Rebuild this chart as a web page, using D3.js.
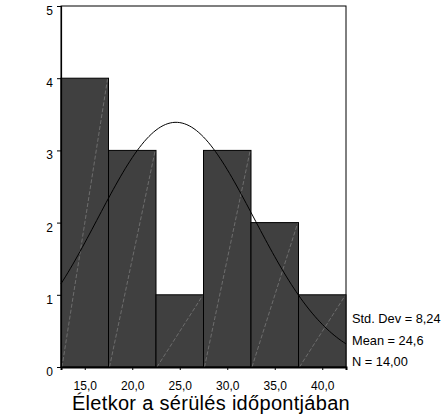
<!DOCTYPE html>
<html>
<head>
<meta charset="utf-8">
<script src="https://cdn.jsdelivr.net/npm/d3@7"></script>
<style>
  body { margin: 0; background: #fff; }
  text { font-family: Arial, "Liberation Sans", sans-serif; fill: #000; }
</style>
</head>
<body>
<div id="chart"></div>
<script>
// histogram data (bin midpoints and counts)
const binMids = [15, 20, 25, 30, 35, 40];
const counts = [4, 3, 1, 3, 2, 1];
const binWidth = 5;
const xTicks = [15, 20, 25, 30, 35, 40];
const yTicks = [0, 1, 2, 3, 4, 5];
// summary stats shown at the right
const stdDev = 8.24, mean = 24.6, n = 14;
const statLabels = ["Std. Dev = 8,24", "Mean = 24,6", "N = 14,00"];
const xTitle = "Életkor a sérülés időpontjában";

const W = 443, H = 415;
const margin = {top: 6, right: 97, bottom: 48, left: 61};
const width = W - margin.left - margin.right,
      height = H - margin.top - margin.bottom;

const svg = d3.select("#chart").append("svg")
    .attr("width", W).attr("height", H);
const g = svg.append("g")
    .attr("transform", `translate(${margin.left},${margin.top})`);

const x = d3.scaleLinear().domain([12.5, 42.5]).range([0, width]);
const y = d3.scaleLinear().domain([0, 5]).range([height, 0]);

const bins = binMids.map((m, i) => ({x0: m - binWidth / 2, x1: m + binWidth / 2, count: counts[i]}));

// plot frame
g.append("rect")
    .attr("x", 0).attr("y", 0)
    .attr("width", width).attr("height", height)
    .attr("fill", "none").attr("stroke", "#000").attr("stroke-width", 1);

// bars
g.selectAll("rect.bar")
    .data(bins)
    .join("rect")
    .attr("class", "bar")
    .attr("x", d => x(d.x0))
    .attr("y", d => y(d.count))
    .attr("width", d => x(d.x1) - x(d.x0))
    .attr("height", d => y(0) - y(d.count))
    .attr("fill", "#404040")
    .attr("stroke", "#000")
    .attr("stroke-width", 1);

// faint diagonal lines inside each bar
g.selectAll("line.diag")
    .data(bins)
    .join("line")
    .attr("class", "diag")
    .attr("x1", d => x(d.x0) + 1)
    .attr("y1", y(0))
    .attr("x2", d => x(d.x1) - 1)
    .attr("y2", d => y(d.count) + 1)
    .attr("stroke", "#8c8c8c")
    .attr("stroke-width", 0.6)
    .attr("stroke-dasharray", "4,2");

// fitted normal curve
const curvePts = d3.range(0, 121).map(i => {
    const xv = 12.5 + i * 30 / 120;
    const z = (xv - mean) / stdDev;
    return [xv, n * binWidth * Math.exp(-0.5 * z * z) / (stdDev * Math.sqrt(2 * Math.PI))];
});
g.append("path")
    .datum(curvePts)
    .attr("fill", "none")
    .attr("stroke", "#000")
    .attr("stroke-width", 1)
    .attr("d", d3.line().x(d => x(d[0])).y(d => y(d[1])));

// y axis
const yAxis = g.append("g")
    .call(d3.axisLeft(y).tickValues(yTicks).tickSize(4).tickPadding(4).tickFormat(d3.format("d")));
yAxis.select(".domain").attr("stroke-width", 1.2);
yAxis.selectAll("text")
    .attr("font-size", 12)
    .attr("dy", "0.7em");

// x axis
const xAxis = g.append("g")
    .attr("transform", `translate(0,${height})`)
    .call(d3.axisBottom(x).tickValues(xTicks).tickSize(3).tickPadding(11)
        .tickFormat(d => d3.format(".1f")(d).replace(".", ",")));
xAxis.select(".domain").attr("stroke-width", 2);
xAxis.selectAll("text").attr("font-size", 12);

// x title
svg.append("text")
    .attr("x", 211)
    .attr("y", 410)
    .attr("text-anchor", "middle")
    .attr("font-size", 20)
    .attr("letter-spacing", 0.3)
    .text(xTitle);

// stats box text
svg.selectAll("text.stat")
    .data(statLabels)
    .join("text")
    .attr("class", "stat")
    .attr("x", margin.left + width + 6)
    .attr("y", (d, i) => 323 + i * 21.5)
    .attr("font-size", 12.8)
    .text(d => d);
</script>
</body>
</html>
